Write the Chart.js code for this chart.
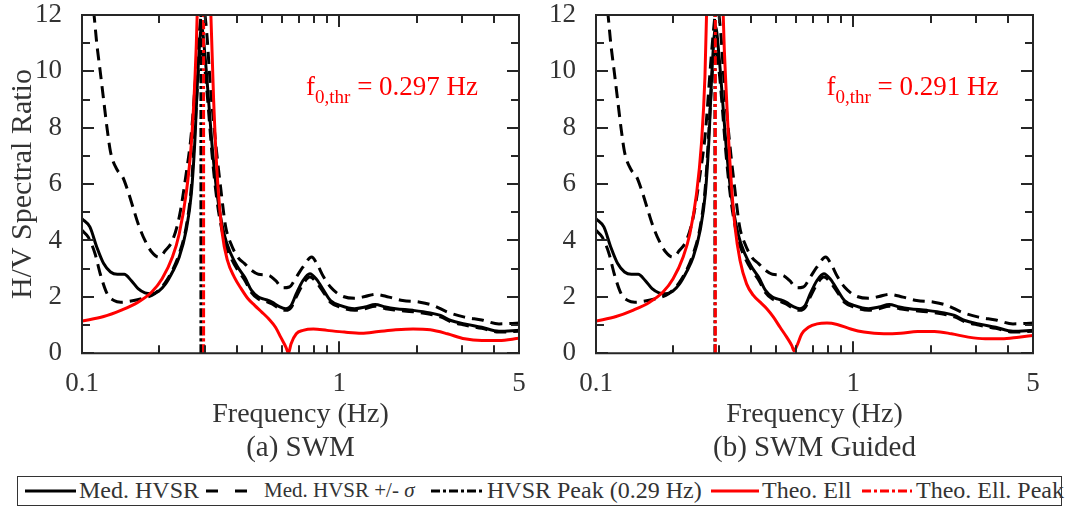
<!DOCTYPE html>
<html>
<head>
<meta charset="utf-8">
<script src="https://cdn.jsdelivr.net/npm/chart.js@4.4.1/dist/chart.umd.min.js"></script>
<style>
html,body{margin:0;padding:0;background:#fff;}
body{width:1065px;height:507px;position:relative;overflow:hidden;font-family:"Liberation Serif","Times New Roman",serif;color:#333;}
#ca{position:absolute;left:0;top:0;}
#cb{position:absolute;left:540px;top:0;}
#legend{position:absolute;left:17px;top:476px;width:1045px;height:30px;border:1.5px solid #333;box-sizing:border-box;}
#legend svg{position:absolute;top:9px;}
#legend span{position:absolute;top:0;line-height:27px;font-size:24px;white-space:nowrap;color:#333;}
#legend span.sm{font-size:21px;}
</style>
</head>
<body>
<canvas id="ca" width="540" height="470"></canvas>
<canvas id="cb" width="525" height="470"></canvas>
<div id="legend">
  <svg style="left:7px" width="51" height="10"><line x1="0" y1="5" x2="51" y2="5" stroke="#000" stroke-width="3"/></svg>
  <span style="left:61px">Med. HVSR</span>
  <svg style="left:188px" width="42" height="10"><line x1="0" y1="5" x2="42" y2="5" stroke="#000" stroke-width="3" stroke-dasharray="12,17"/></svg>
  <span class="sm" style="left:246px">Med. HVSR +/- <i>σ</i></span>
  <svg style="left:413px" width="51" height="10"><line x1="0" y1="5" x2="51" y2="5" stroke="#000" stroke-width="3" stroke-dasharray="9,3,3,3"/></svg>
  <span style="left:469px">HVSR Peak (0.29 Hz)</span>
  <svg style="left:693px" width="48" height="10"><line x1="0" y1="5" x2="48" y2="5" stroke="#ff0000" stroke-width="3"/></svg>
  <span style="left:744px">Theo. Ell</span>
  <svg style="left:844px" width="50" height="10"><line x1="0" y1="5" x2="50" y2="5" stroke="#ff0000" stroke-width="3" stroke-dasharray="9,3,3,3"/></svg>
  <span style="left:898px">Theo. Ell. Peak</span>
</div>
<script>
// ---------------- DATA ----------------
const xTickValues = [0.1, 1, 5];
const xTickLabels = ['0.1', '1', '5'];
const xMinorTicks = [0.2, 0.3, 0.4, 0.5, 0.6, 0.7, 0.8, 0.9, 2, 3, 4];
const yTickValues = [0, 1, 2, 3, 4, 5, 6, 7, 8, 9, 10, 11, 12];

// Median HVSR (same measured data in both panels)
const medFreq = [0.1, 0.1073, 0.1141, 0.1214, 0.1291, 0.1373, 0.146, 0.1553, 0.1652, 0.1757, 0.1867, 0.1986, 0.2113, 0.2247, 0.2388, 0.2541, 0.2661, 0.2743, 0.283, 0.2917, 0.301, 0.3105, 0.32, 0.335, 0.3565, 0.379, 0.403, 0.4287, 0.456, 0.485, 0.515, 0.548, 0.583, 0.621, 0.650, 0.681, 0.723, 0.769, 0.818, 0.870, 0.925, 1.014, 1.148, 1.259, 1.380, 1.513, 1.659, 1.936, 2.259, 2.477, 2.716, 3.073, 3.584, 4.18, 5];
const medHV = [4.77, 4.48, 3.77, 3.18, 2.88, 2.80, 2.80, 2.58, 2.29, 2.14, 2.11, 2.20, 2.46, 2.88, 3.41, 4.36, 5.66, 7.44, 10.17, 11.59, 10.52, 8.98, 7.44, 5.66, 4.24, 3.53, 3.06, 2.70, 2.23, 1.99, 1.91, 1.81, 1.66, 1.58, 1.69, 2.11, 2.58, 2.82, 2.61, 2.23, 1.87, 1.69, 1.58, 1.64, 1.73, 1.64, 1.58, 1.52, 1.43, 1.34, 1.16, 1.04, 0.92, 0.78, 0.81];

// Median HVSR + sigma
const upFreq = [0.1, 0.1114, 0.1141, 0.1177, 0.1214, 0.1252, 0.1291, 0.1373, 0.1438, 0.1505, 0.1577, 0.1652, 0.1757, 0.1867, 0.1986, 0.2113, 0.2247, 0.2388, 0.2541, 0.2661, 0.2786, 0.2873, 0.295, 0.3056, 0.3151, 0.330, 0.3457, 0.362, 0.379, 0.403, 0.4287, 0.456, 0.485, 0.5317, 0.5653, 0.6015, 0.6397, 0.681, 0.723, 0.7815, 0.818, 0.870, 0.925, 1.014, 1.148, 1.259, 1.380, 1.561, 1.766, 2.06, 2.33, 2.634, 3.073, 3.584, 4.18, 5];
const upHV = [15.5, 12.0, 11.0, 10.0, 8.98, 7.97, 7.14, 6.49, 6.26, 5.78, 5.19, 4.6, 4.0, 3.59, 3.41, 3.65, 4.0, 4.83, 6.37, 7.8, 10.17, 11.6, 12.4, 11.35, 9.57, 7.56, 5.9, 4.48, 3.89, 3.41, 3.18, 2.94, 2.80, 2.76, 2.58, 2.32, 2.35, 2.70, 3.06, 3.41, 3.18, 2.70, 2.35, 2.05, 1.95, 2.01, 2.09, 1.99, 1.87, 1.81, 1.69, 1.46, 1.28, 1.18, 1.04, 1.07];

// Median HVSR - sigma
const loFreq = [0.1, 0.1057, 0.1124, 0.1177, 0.1252, 0.1331, 0.1416, 0.1553, 0.1703, 0.1867, 0.1986, 0.2113, 0.2247, 0.2388, 0.2541, 0.2661, 0.2743, 0.283, 0.289, 0.301, 0.3105, 0.32, 0.335, 0.3565, 0.379, 0.403, 0.4287, 0.456, 0.485, 0.515, 0.548, 0.583, 0.621, 0.65, 0.681, 0.723, 0.769, 0.818, 0.87, 0.925, 1.014, 1.148, 1.259, 1.38, 1.513, 1.659, 1.936, 2.259, 2.477, 2.716, 3.073, 3.584, 4.18, 5];
const loHV = [4.36, 4.12, 3.53, 2.82, 2.11, 1.87, 1.81, 1.85, 1.93, 2.05, 2.23, 2.52, 2.94, 3.53, 4.48, 5.9, 7.8, 9.93, 10.8, 10.0, 8.6, 7.1, 5.4, 4.05, 3.4, 2.95, 2.6, 2.15, 1.92, 1.85, 1.75, 1.6, 1.52, 1.62, 2.0, 2.45, 2.7, 2.5, 2.15, 1.8, 1.63, 1.52, 1.58, 1.67, 1.58, 1.53, 1.47, 1.38, 1.29, 1.12, 1.0, 0.88, 0.75, 0.78];

// Theoretical ellipticity, (a) SWM
const ellFreqA = [0.1, 0.1214, 0.1415, 0.1652, 0.1867, 0.2048, 0.2247, 0.2388, 0.2541, 0.2661, 0.2743, 0.2804, 0.288, 0.297, 0.307, 0.317, 0.3249, 0.3352, 0.3511, 0.3677, 0.3909, 0.4157, 0.4421, 0.4701, 0.5, 0.5317, 0.5653, 0.5923, 0.621, 0.635, 0.6494, 0.681, 0.723, 0.7933, 0.8975, 1.047, 1.221, 1.423, 1.659, 1.936, 2.259, 2.634, 3.073, 3.584, 4.18, 5];
const ellA = [1.14, 1.30, 1.52, 1.81, 2.17, 2.64, 3.41, 4.24, 5.66, 7.44, 9.57, 12.0, 18.0, 30.0, 18.0, 12.0, 8.98, 6.37, 4.24, 3.29, 2.70, 2.29, 1.93, 1.69, 1.46, 1.22, 0.92, 0.57, 0.21, 0.0, 0.33, 0.69, 0.81, 0.86, 0.81, 0.75, 0.71, 0.77, 0.83, 0.86, 0.83, 0.69, 0.51, 0.45, 0.45, 0.53];

// Theoretical ellipticity, (b) SWM Guided
const ellFreqB = [0.1, 0.1197, 0.139, 0.1616, 0.1822, 0.1994, 0.2182, 0.2317, 0.246, 0.257, 0.2652, 0.269, 0.28, 0.291, 0.301, 0.3123, 0.322, 0.3338, 0.3471, 0.3631, 0.385, 0.4092, 0.435, 0.4614, 0.4897, 0.5196, 0.5514, 0.5772, 0.5892, 0.6043, 0.6314, 0.6698, 0.7242, 0.7907, 0.8661, 0.9775, 1.1, 1.316, 1.53, 1.78, 2.07, 2.41, 2.80, 3.26, 3.78, 4.4, 5];
const ellB = [1.14, 1.30, 1.52, 1.81, 2.17, 2.64, 3.41, 4.24, 5.66, 7.44, 9.81, 12.0, 20.0, 30.0, 20.0, 12.0, 8.98, 6.37, 4.48, 3.29, 2.46, 2.05, 1.81, 1.58, 1.28, 0.92, 0.57, 0.27, 0.08, 0.27, 0.69, 0.92, 1.04, 1.07, 1.02, 0.86, 0.75, 0.69, 0.71, 0.77, 0.77, 0.69, 0.57, 0.51, 0.51, 0.57, 0.63];

const hvsrPeak = 0.29;
const ellPeakA = 0.297;
const ellPeakB = 0.291;
const peakSpan = [0, 12];

// ---------------- CHART ----------------
const FONT = '"Liberation Serif", "Times New Roman", serif';
const TXT = '#333333';
Chart.defaults.font.family = FONT;
Chart.defaults.color = TXT;

const pts = (xs, ys) => xs.map((x, i) => ({x: x, y: ys[i]}));
const vline = (f) => peakSpan.map(v => ({x: f, y: v}));
const near = (a, b) => Math.abs(a - b) < 1e-6 * Math.max(1, Math.abs(b));

const frameTicks = {
  id: 'frameTicks',
  afterDraw(chart, args, opts) {
    const ctx = chart.ctx;
    const ca = chart.chartArea;
    const L = ca.left, R = ca.right, T = ca.top, B = ca.bottom;
    const x = chart.scales.x, y = chart.scales.y;
    ctx.save();
    ctx.setLineDash([]);
    ctx.lineWidth = 2;
    ctx.strokeStyle = '#262626';
    ctx.beginPath();
    ctx.rect(L, T, R - L, B - T);
    const xMarks = xTickValues.map(v => [v, 12]).concat(xMinorTicks.map(v => [v, 8]));
    for (const m of xMarks) {
      const px = Math.round(x.getPixelForValue(m[0]));
      ctx.moveTo(px, B); ctx.lineTo(px, B - m[1]);
      ctx.moveTo(px, T); ctx.lineTo(px, T + m[1]);
    }
    for (const v of yTickValues) {
      const py = Math.round(y.getPixelForValue(v));
      const len = (v % 2 === 0) ? 12 : 8;
      ctx.moveTo(L, py); ctx.lineTo(L + len, py);
      ctx.moveTo(R, py); ctx.lineTo(R - len, py);
    }
    ctx.stroke();
    // annotation
    const a = opts.ann;
    if (a) {
      let px = x.getPixelForValue(a.x);
      const py = y.getPixelForValue(a.y);
      ctx.fillStyle = '#ff0000';
      ctx.textBaseline = 'alphabetic';
      ctx.textAlign = 'left';
      ctx.font = '27px ' + FONT;
      ctx.fillText('f', px, py);
      px += ctx.measureText('f').width;
      ctx.font = '19px ' + FONT;
      ctx.fillText('0,thr', px, py + 8);
      px += ctx.measureText('0,thr').width;
      ctx.font = '27px ' + FONT;
      ctx.fillText(' = ' + a.text, px, py);
    }
    ctx.restore();
  }
};

function makeChart(id, cfg) {
  const datasets = [
    {label: 'Theo. Ell. Peak', data: vline(cfg.ellPeak), borderColor: '#ff0000', borderWidth: 3, borderDash: [9, 3, 3, 3], order: 0},
    {label: 'HVSR Peak (0.29 Hz)', data: vline(hvsrPeak), borderColor: '#000000', borderWidth: 3, borderDash: [9, 3, 3, 3], order: 1},
    {label: 'Theo. Ell', data: pts(cfg.ellFreq, cfg.ell), borderColor: '#ff0000', borderWidth: 3, order: 2},
    {label: 'Med. HVSR', data: pts(medFreq, medHV), borderColor: '#000000', borderWidth: 3, order: 3},
    {label: 'Med. HVSR + sigma', data: pts(upFreq, upHV), borderColor: '#000000', borderWidth: 3, borderDash: [12, 7], order: 4},
    {label: 'Med. HVSR - sigma', data: pts(loFreq, loHV), borderColor: '#000000', borderWidth: 3, borderDash: [12, 7], order: 5}
  ];
  datasets.forEach(d => { d.pointRadius = 0; d.fill = false; d.cubicInterpolationMode = 'monotone'; });
  return new Chart(document.getElementById(id), {
    type: 'line',
    data: {datasets},
    options: {
      responsive: false,
      animation: false,
      devicePixelRatio: 1,
      layout: {padding: {left: 0, right: cfg.rightPad, top: 15, bottom: 0}},
      scales: {
        x: {
          type: 'logarithmic', min: 0.1, max: 5, position: 'bottom',
          grid: {display: false}, border: {display: false},
          ticks: {
            autoSkip: false, maxRotation: 0, minRotation: 0, padding: 7, color: TXT,
            font: {family: FONT, size: 27, lineHeight: 1.2, weight: 'normal'},
            callback: (v) => { const i = xTickValues.findIndex(t => near(t, v)); return i >= 0 ? xTickLabels[i] : ''; }
          },
          title: {display: true, text: 'Frequency (Hz)', color: TXT, padding: 0,
                  font: {family: FONT, size: 28, lineHeight: 1.2, weight: 'normal'}},
          afterFit: s => { s.height = 78; s.paddingLeft = 0; s.paddingRight = 0; }
        },
        y: {
          type: 'linear', min: 0, max: 12,
          grid: {display: false}, border: {display: false},
          ticks: {
            stepSize: 1, autoSkip: false, padding: 12, color: TXT,
            font: {family: FONT, size: 27, lineHeight: 1.0, weight: 'normal'},
            callback: v => (v % 2 === 0 ? String(v) : '')
          },
          title: {display: cfg.yTitle, text: 'H/V Spectral Ratio', color: TXT, padding: {top: 5, bottom: 0},
                  font: {family: FONT, size: 30, lineHeight: 1.2, weight: 'normal'}},
          afterFit: s => { s.width = cfg.yWidth; s.paddingTop = 0; s.paddingBottom = 0; }
        }
      },
      plugins: {
        legend: {display: false},
        tooltip: {enabled: false},
        title: {display: true, position: 'bottom', text: cfg.title, fullSize: false, color: TXT,
                padding: {top: 0, bottom: 4}, font: {family: FONT, size: 29, lineHeight: 1.2, weight: 'normal'}},
        frameTicks: {ann: cfg.ann}
      }
    },
    plugins: [frameTicks]
  });
}

makeChart('ca', {ellFreq: ellFreqA, ell: ellA, ellPeak: ellPeakA, rightPad: 21, yWidth: 82, yTitle: true,
  title: '(a) SWM', ann: {x: 0.743, y: 9.16, text: '0.297 Hz'}});
makeChart('cb', {ellFreq: ellFreqB, ell: ellB, ellPeak: ellPeakB, rightPad: 32, yWidth: 56, yTitle: false,
  title: '(b) SWM Guided', ann: {x: 0.787, y: 9.16, text: '0.291 Hz'}});
</script>
</body>
</html>
